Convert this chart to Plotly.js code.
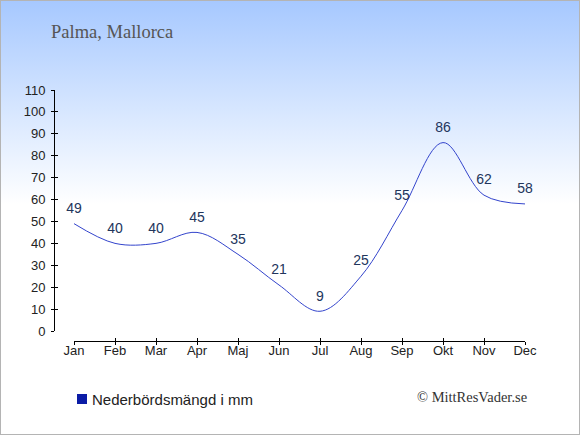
<!DOCTYPE html>
<html>
<head>
<meta charset="utf-8">
<script src="https://cdn.plot.ly/plotly-3.0.1.min.js"></script>
<style>
html,body{margin:0;padding:0;}
#wrap{position:relative;width:580px;height:435px;background:linear-gradient(to bottom,#a6c8ff 0%,#d6e6ff 25%,#ffffff 47%,#ffffff 100%);}
#chart{position:absolute;left:0;top:0;width:580px;height:435px;}
#border{position:absolute;left:0;top:0;width:580px;height:435px;box-sizing:border-box;border:1px solid #b4b4b4;pointer-events:none;}
</style>
</head>
<body>
<div id="wrap"><div id="chart"></div><div id="border"></div></div>
<script>
const months = ["Jan","Feb","Mar","Apr","Maj","Jun","Jul","Aug","Sep","Okt","Nov","Dec"];
const precipitation = [49,40,40,45,35,21,9,25,55,86,62,58];
const seriesName = "Nederbördsmängd i mm";
const chartTitle = "Palma, Mallorca";
const credit = "© MittResVader.se";

const W = 580, H = 435;
const fx = p => p / W;
const fy = p => 1 - p / H;
const monthIdx = months.map((m, i) => i);

const traces = [
  {
    x: months, y: precipitation, type: "scatter", mode: "lines+markers+text",
    line: {color: "#3344cc", width: 1, shape: "spline", smoothing: 1},
    marker: {size: 10, opacity: 0, color: "#3344cc"},
    text: precipitation.map(String), textposition: "top center",
    textfont: {family: "Liberation Sans, Arial, sans-serif", size: 14, color: "#22355c"},
    showlegend: false, hoverinfo: "skip", cliponaxis: false
  },
  {x: [], y: [], type: "scatter", mode: "markers", xaxis: "x2", yaxis: "y2", showlegend: false, hoverinfo: "skip"},
  {x: [], y: [], type: "scatter", mode: "markers", xaxis: "x3", yaxis: "y2", showlegend: false, hoverinfo: "skip"}
];

const axisFont = {family: "Liberation Sans, Arial, sans-serif", size: 13, color: "#222"};
const xDom = [fx(74), fx(525)];
const yDom = [fy(331), fy(90)];

const layout = {
  width: W, height: H,
  margin: {l: 0, r: 0, t: 0, b: 0, pad: 0},
  paper_bgcolor: "rgba(0,0,0,0)", plot_bgcolor: "rgba(0,0,0,0)",
  showlegend: false,
  title: {
    text: chartTitle, x: fx(51), xanchor: "left", xref: "paper",
    y: fy(32), yanchor: "middle", yref: "paper",
    font: {family: "Liberation Serif, Times New Roman, serif", size: 18.5, color: "#555"}
  },
  xaxis: {
    type: "category", range: [0, 11], domain: xDom,
    anchor: "free", position: fy(341),
    showline: true, linecolor: "#000", linewidth: 1,
    ticks: "", ticklen: 0, ticklabelstandoff: -3,
    showgrid: false, zeroline: false, tickfont: axisFont, fixedrange: true
  },
  xaxis2: {
    type: "linear", range: [0, 11], domain: xDom,
    overlaying: "x", anchor: "free", position: fy(341),
    showline: false, ticks: "inside", ticklen: 3, tickcolor: "#000", tickwidth: 1,
    tickmode: "array", tickvals: monthIdx, showticklabels: false, showgrid: false, zeroline: false
  },
  xaxis3: {
    type: "linear", range: [0, 11], domain: xDom,
    overlaying: "x", anchor: "free", position: fy(341),
    showline: false, ticks: "outside", ticklen: 3, tickcolor: "#000", tickwidth: 1,
    tickmode: "array", tickvals: monthIdx, showticklabels: false, showgrid: false, zeroline: false
  },
  yaxis: {
    range: [0, 110], dtick: 10, domain: yDom,
    anchor: "free", position: fx(54),
    showline: true, linecolor: "#000", linewidth: 1,
    ticks: "outside", ticklen: 3, tickcolor: "#000", tickwidth: 1,
    ticklabelstandoff: 3,
    showgrid: false, zeroline: false, tickfont: axisFont, fixedrange: true
  },
  yaxis2: {
    range: [0, 110], dtick: 10, domain: yDom,
    overlaying: "y", anchor: "free", position: fx(54),
    showline: false, ticks: "inside", ticklen: 3, tickcolor: "#000", tickwidth: 1,
    showticklabels: false, showgrid: false, zeroline: false
  },
  shapes: [
    {type: "rect", xref: "paper", yref: "paper", x0: fx(77), x1: fx(87), y0: fy(404), y1: fy(394),
     fillcolor: "#0b1ca6", line: {width: 0}}
  ],
  annotations: [
    {
      text: seriesName, xref: "paper", yref: "paper", x: fx(90), y: fy(399),
      xanchor: "left", yanchor: "middle", showarrow: false,
      font: {family: "Liberation Sans, Arial, sans-serif", size: 15, color: "#222"}
    },
    {
      text: credit, xref: "paper", yref: "paper", x: fx(529), y: fy(397),
      xanchor: "right", yanchor: "middle", showarrow: false,
      font: {family: "Liberation Serif, Times New Roman, serif", size: 14.5, color: "#333"}
    }
  ]
};

Plotly.newPlot("chart", traces, layout, {displayModeBar: false, staticPlot: true});
</script>
</body>
</html>
